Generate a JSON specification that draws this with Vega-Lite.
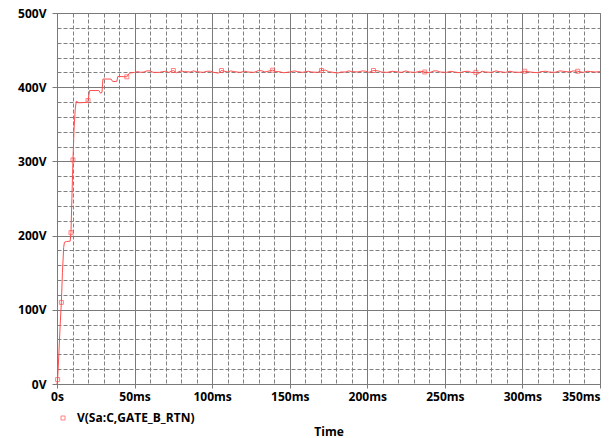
{
  "$schema": "https://vega.github.io/schema/vega-lite/v6.json",
  "width": 543,
  "height": 371,
  "autosize": {"type": "none"},
  "padding": {"left": 57, "top": 13, "right": 9, "bottom": 54},
  "background": "white",
  "config": {
    "view": {"stroke": "#7a7a7a", "strokeWidth": 1},
    "font": "Open Sans",
    "axis": {"labelFont": "Open Sans", "titleFont": "Open Sans"}
  },
  "resolve": {"axis": {"x": "independent", "y": "independent"}},
  "data": {
    "values": [
      {"t": 0.0, "v": 0, "m": 0},
      {"t": 0.4, "v": 6, "m": 1},
      {"t": 1.2, "v": 40, "m": 0},
      {"t": 2.0, "v": 78, "m": 0},
      {"t": 2.8, "v": 110, "m": 1},
      {"t": 3.5, "v": 150, "m": 0},
      {"t": 4.3, "v": 184, "m": 0},
      {"t": 4.8, "v": 191, "m": 0},
      {"t": 6.0, "v": 192, "m": 0},
      {"t": 8.5, "v": 192.5, "m": 0},
      {"t": 9.0, "v": 204, "m": 1},
      {"t": 9.6, "v": 250, "m": 0},
      {"t": 10.3, "v": 302, "m": 1},
      {"t": 11.0, "v": 345, "m": 0},
      {"t": 11.8, "v": 372, "m": 0},
      {"t": 12.5, "v": 381, "m": 0},
      {"t": 14.0, "v": 379, "m": 0},
      {"t": 18.9, "v": 379.5, "m": 0},
      {"t": 20.0, "v": 382, "m": 1},
      {"t": 21.0, "v": 395.5, "m": 0},
      {"t": 27.0, "v": 395.5, "m": 0},
      {"t": 28.0, "v": 392, "m": 0},
      {"t": 29.0, "v": 393, "m": 0},
      {"t": 29.6, "v": 411, "m": 0},
      {"t": 34.8, "v": 411, "m": 0},
      {"t": 36.0, "v": 407.5, "m": 0},
      {"t": 38.6, "v": 408, "m": 0},
      {"t": 39.2, "v": 414.5, "m": 0},
      {"t": 45.0, "v": 414, "m": 1},
      {"t": 46.7, "v": 419, "m": 0},
      {"t": 50, "v": 420, "m": 0},
      {"t": 52, "v": 421, "m": 0},
      {"t": 54, "v": 420, "m": 0},
      {"t": 56, "v": 420.5, "m": 0},
      {"t": 58, "v": 422, "m": 0},
      {"t": 60, "v": 422, "m": 0},
      {"t": 62, "v": 420, "m": 0},
      {"t": 66, "v": 420, "m": 0},
      {"t": 68, "v": 421, "m": 0},
      {"t": 70, "v": 421.5, "m": 0},
      {"t": 72, "v": 420, "m": 0},
      {"t": 75, "v": 422.5, "m": 1},
      {"t": 77, "v": 419.5, "m": 0},
      {"t": 80, "v": 422, "m": 0},
      {"t": 82, "v": 421, "m": 0},
      {"t": 86, "v": 420.5, "m": 0},
      {"t": 88, "v": 422, "m": 0},
      {"t": 90, "v": 421, "m": 0},
      {"t": 94, "v": 420, "m": 0},
      {"t": 97, "v": 421.5, "m": 0},
      {"t": 99, "v": 421.5, "m": 0},
      {"t": 101, "v": 420, "m": 0},
      {"t": 104, "v": 419, "m": 0},
      {"t": 106, "v": 422.5, "m": 1},
      {"t": 110, "v": 420.5, "m": 0},
      {"t": 112, "v": 422, "m": 0},
      {"t": 114, "v": 421, "m": 0},
      {"t": 118, "v": 420, "m": 0},
      {"t": 121, "v": 421.5, "m": 0},
      {"t": 123, "v": 420.5, "m": 0},
      {"t": 127, "v": 420, "m": 0},
      {"t": 130, "v": 422.5, "m": 0},
      {"t": 132, "v": 422, "m": 0},
      {"t": 134, "v": 420.5, "m": 0},
      {"t": 139, "v": 423, "m": 1},
      {"t": 141, "v": 421, "m": 0},
      {"t": 143, "v": 421, "m": 0},
      {"t": 146, "v": 419.5, "m": 0},
      {"t": 150, "v": 420.5, "m": 0},
      {"t": 153, "v": 422, "m": 0},
      {"t": 155, "v": 421, "m": 0},
      {"t": 158, "v": 420, "m": 0},
      {"t": 162, "v": 421.5, "m": 0},
      {"t": 164, "v": 420.5, "m": 0},
      {"t": 168, "v": 420, "m": 0},
      {"t": 170.5, "v": 422.5, "m": 1},
      {"t": 173, "v": 423, "m": 0},
      {"t": 175, "v": 421, "m": 0},
      {"t": 178, "v": 420, "m": 0},
      {"t": 181, "v": 419, "m": 0},
      {"t": 183, "v": 420.5, "m": 0},
      {"t": 186, "v": 420.5, "m": 0},
      {"t": 188, "v": 422, "m": 0},
      {"t": 190, "v": 421, "m": 0},
      {"t": 194, "v": 420.5, "m": 0},
      {"t": 197, "v": 422, "m": 0},
      {"t": 199, "v": 421.5, "m": 0},
      {"t": 201, "v": 420, "m": 0},
      {"t": 204, "v": 422.5, "m": 1},
      {"t": 207, "v": 422, "m": 0},
      {"t": 209, "v": 420.5, "m": 0},
      {"t": 213, "v": 420, "m": 0},
      {"t": 216, "v": 421.5, "m": 0},
      {"t": 218, "v": 421, "m": 0},
      {"t": 222, "v": 420, "m": 0},
      {"t": 225, "v": 422, "m": 0},
      {"t": 227, "v": 420.5, "m": 0},
      {"t": 231, "v": 420, "m": 0},
      {"t": 234, "v": 421.5, "m": 0},
      {"t": 237, "v": 420.5, "m": 1},
      {"t": 240, "v": 419.5, "m": 0},
      {"t": 243, "v": 422, "m": 0},
      {"t": 245, "v": 422, "m": 0},
      {"t": 247, "v": 420.5, "m": 0},
      {"t": 251, "v": 420, "m": 0},
      {"t": 254, "v": 421.5, "m": 0},
      {"t": 256, "v": 420.5, "m": 0},
      {"t": 260, "v": 419.5, "m": 0},
      {"t": 262, "v": 421, "m": 0},
      {"t": 265, "v": 421.5, "m": 0},
      {"t": 267, "v": 420, "m": 0},
      {"t": 270, "v": 420, "m": 1},
      {"t": 272, "v": 419, "m": 0},
      {"t": 274, "v": 421.5, "m": 0},
      {"t": 276, "v": 420.5, "m": 0},
      {"t": 280, "v": 420, "m": 0},
      {"t": 283, "v": 422, "m": 0},
      {"t": 285, "v": 421, "m": 0},
      {"t": 289, "v": 420, "m": 0},
      {"t": 292, "v": 421.5, "m": 0},
      {"t": 294, "v": 420.5, "m": 0},
      {"t": 298, "v": 420, "m": 0},
      {"t": 301.5, "v": 421.5, "m": 1},
      {"t": 303, "v": 421, "m": 0},
      {"t": 307, "v": 420, "m": 0},
      {"t": 310, "v": 419.5, "m": 0},
      {"t": 312, "v": 421, "m": 0},
      {"t": 315, "v": 421.5, "m": 0},
      {"t": 317, "v": 420.5, "m": 0},
      {"t": 321, "v": 420, "m": 0},
      {"t": 324, "v": 422, "m": 0},
      {"t": 326, "v": 421.5, "m": 0},
      {"t": 330, "v": 420.5, "m": 0},
      {"t": 333, "v": 422, "m": 0},
      {"t": 335.6, "v": 421.5, "m": 1},
      {"t": 339, "v": 420, "m": 0},
      {"t": 342, "v": 421.5, "m": 0},
      {"t": 344, "v": 421, "m": 0},
      {"t": 347, "v": 420.5, "m": 0},
      {"t": 350, "v": 421, "m": 0}
    ]
  },
  "layer": [
    {
      "mark": {"type": "rule", "opacity": 0},
      "encoding": {
        "x": {
          "field": "t", "type": "quantitative",
          "scale": {"domain": [0, 350], "nice": false, "zero": false},
          "axis": {
            "orient": "bottom", "values": [10,20,30,40,60,70,80,90,110,120,130,140,160,170,180,190,210,220,230,240,260,270,280,290,310,320,330,340],
            "grid": true, "gridDash": [4, 2], "gridColor": "#808080", "gridOpacity": 1, "gridWidth": 1,
            "labels": false, "ticks": false, "domain": false, "title": null
          }
        },
        "y": {
          "field": "v", "type": "quantitative",
          "scale": {"domain": [0, 500], "nice": false},
          "axis": {
            "orient": "left", "values": [20,40,60,80,120,140,160,180,220,240,260,280,320,340,360,380,420,440,460,480],
            "grid": true, "gridDash": [4, 2], "gridColor": "#808080", "gridOpacity": 1, "gridWidth": 1,
            "labels": false, "ticks": false, "domain": false, "title": null
          }
        }
      }
    },
    {
      "mark": {"type": "line", "color": "#ff4d4d", "strokeWidth": 1, "interpolate": "linear"},
      "encoding": {
        "x": {
          "field": "t", "type": "quantitative",
          "axis": {
            "orient": "bottom", "values": [0, 50, 100, 150, 200, 250, 300, 350],
            "grid": true, "gridColor": "#7a7a7a", "gridOpacity": 1, "gridWidth": 1,
            "domain": true, "domainColor": "#7a7a7a",
            "ticks": true, "tickSize": 4, "tickColor": "#7a7a7a",
            "labelExpr": "datum.value == 0 ? '0s' : datum.value + 'ms'",
            "labelFont": "Open Sans", "labelFontWeight": "bold", "labelFontSize": 12, "labelColor": "#000000",
            "labelPadding": 3,
            "labelAlign": {"condition": {"test": "datum.value == 350", "value": "right"}, "value": "center"},
            "title": "Time", "titleFont": "Open Sans", "titleFontWeight": "bold", "titleFontSize": 12, "titleColor": "#000000",
            "titlePadding": 24
          }
        },
        "y": {
          "field": "v", "type": "quantitative",
          "axis": {
            "orient": "left", "values": [0, 100, 200, 300, 400, 500],
            "grid": true, "gridColor": "#7a7a7a", "gridOpacity": 1, "gridWidth": 1,
            "domain": true, "domainColor": "#7a7a7a",
            "ticks": true, "tickSize": 5, "tickColor": "#7a7a7a",
            "labelExpr": "datum.value + 'V'",
            "labelFont": "Open Sans", "labelFontWeight": "bold", "labelFontSize": 12, "labelColor": "#000000",
            "labelPadding": 6,
            "title": null
          }
        }
      }
    },
    {
      "transform": [{"filter": "datum.m == 1"}],
      "mark": {"type": "point", "shape": "square", "filled": false, "size": 16, "strokeWidth": 1},
      "encoding": {
        "x": {"field": "t", "type": "quantitative", "axis": null},
        "y": {"field": "v", "type": "quantitative", "axis": null},
        "color": {
          "datum": "V(Sa:C,GATE_B_RTN)", "type": "nominal",
          "scale": {"range": ["#ff4d4d"]},
          "legend": {
            "orient": "none", "legendX": 0, "legendY": 399,
            "title": null, "symbolType": "square", "symbolSize": 16, "symbolStrokeWidth": 1,
            "symbolFillColor": "white", "symbolStrokeColor": "#ff4d4d",
            "labelFont": "Open Sans", "labelFontWeight": "bold", "labelFontSize": 12, "labelColor": "#000000",
            "labelOffset": 8
          }
        }
      }
    }
  ]
}
